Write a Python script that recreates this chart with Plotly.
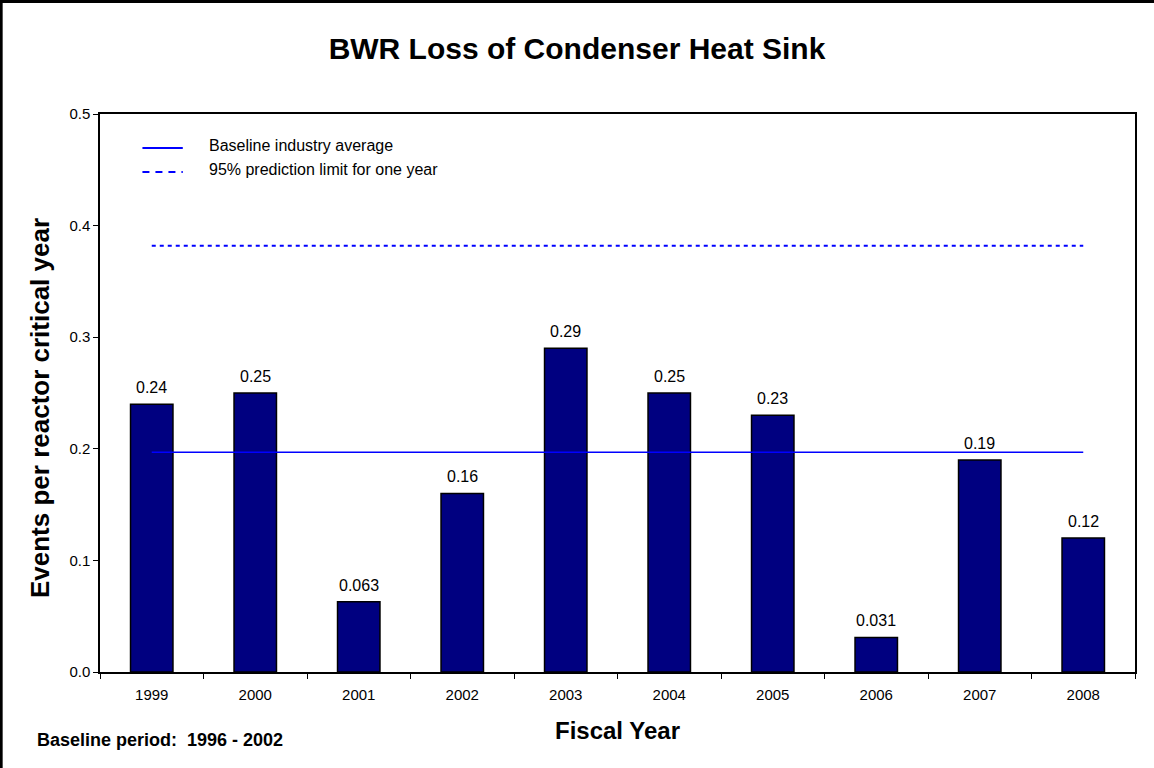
import plotly.graph_objects as go

# Fiscal years and event rates (events per reactor critical year)
years = ["1999", "2000", "2001", "2002", "2003", "2004", "2005", "2006", "2007", "2008"]
rates = [0.24, 0.25, 0.063, 0.16, 0.29, 0.25, 0.23, 0.031, 0.19, 0.12]

# Reference levels
baseline_avg = 0.197
prediction_limit = 0.382

y_ticks = [0.0, 0.1, 0.2, 0.3, 0.4, 0.5]

FONT = "Arial, Liberation Sans, sans-serif"
BAR_COLOR = "#000080"
LINE_COLOR = "#0000FF"

fig = go.Figure()

fig.add_trace(go.Bar(
    x=years, y=rates,
    marker=dict(color=BAR_COLOR, line=dict(color="black", width=1.5)),
    width=0.41,
    showlegend=False,
))

fig.add_trace(go.Scatter(
    x=[years[0], years[-1]], y=[baseline_avg, baseline_avg],
    mode="lines", line=dict(color=LINE_COLOR, width=1.5),
    showlegend=False,
))
fig.add_trace(go.Scatter(
    x=[years[0], years[-1]], y=[prediction_limit, prediction_limit],
    mode="lines", line=dict(color=LINE_COLOR, width=2, dash="4px,4px"),
    showlegend=False,
))

# Value labels above each bar (category axes take the category index)
for i, v in enumerate(rates):
    fig.add_annotation(
        x=i, y=v, text=f"{v:g}", showarrow=False,
        yanchor="bottom", yshift=6,
        font=dict(family=FONT, size=16, color="black"),
    )

# Hand-drawn legend in the upper left of the plot area
legend_items = [
    ("Baseline industry average", "solid", 0.939),
    ("95% prediction limit for one year", "7px,6px", 0.896),
]
for label, dash, yp in legend_items:
    fig.add_shape(
        type="line", xref="paper", yref="paper",
        x0=0.041, x1=0.080, y0=yp, y1=yp,
        line=dict(color=LINE_COLOR, width=2, dash=dash),
    )
    fig.add_annotation(
        xref="paper", yref="paper", x=0.103, y=yp + 0.004,
        text=label, showarrow=False, xanchor="left", yanchor="middle",
        font=dict(family=FONT, size=16, color="black"),
    )

# Y axis title
fig.add_annotation(
    xref="paper", yref="paper", x=-0.058, y=0.473,
    text="<b>Events per reactor critical year</b>", showarrow=False,
    textangle=-90, xanchor="center", yanchor="middle",
    font=dict(family=FONT, size=26, color="black"),
)

# Footnote
fig.add_annotation(
    xref="paper", yref="paper", x=-0.063, y=-0.122,
    text="<b>Baseline period:  1996 - 2002</b>", showarrow=False,
    xanchor="left", yanchor="middle",
    font=dict(family=FONT, size=18, color="black"),
)

# Outer frame around the whole figure
fig.add_shape(
    type="rect", xref="paper", yref="paper",
    x0=-0.0955, x1=1.05, y0=-0.2, y1=1.2015,
    line=dict(color="black", width=3),
)

fig.update_layout(
    width=1154, height=768,
    margin=dict(l=100, r=19, t=114, b=96),
    paper_bgcolor="white", plot_bgcolor="white",
    title=dict(
        text="<b>BWR Loss of Condenser Heat Sink</b>",
        x=0.5, xanchor="center", y=0.937, yanchor="middle",
        font=dict(family=FONT, size=30, color="black"),
    ),
    font=dict(family=FONT, color="black"),
    xaxis=dict(
        type="category",
        range=[-0.5, len(years) - 0.5],
        title=dict(text="<b>Fiscal Year</b>", font=dict(family=FONT, size=24), standoff=20),
        showline=True, linecolor="black", linewidth=1.5, mirror=True,
        ticks="outside", tickson="boundaries", ticklen=5, tickcolor="black",
        ticklabelstandoff=8,
        tickfont=dict(family=FONT, size=15),
        showgrid=False,
    ),
    yaxis=dict(
        range=[0, 0.5],
        tickvals=y_ticks, tickformat=".1f",
        showline=True, linecolor="black", linewidth=1.5, mirror=True,
        ticks="outside", ticklen=5, tickcolor="black",
        tickfont=dict(family=FONT, size=15),
        showgrid=False, zeroline=False,
    ),
    bargap=0.59,
)

fig.write_html("out.html")
